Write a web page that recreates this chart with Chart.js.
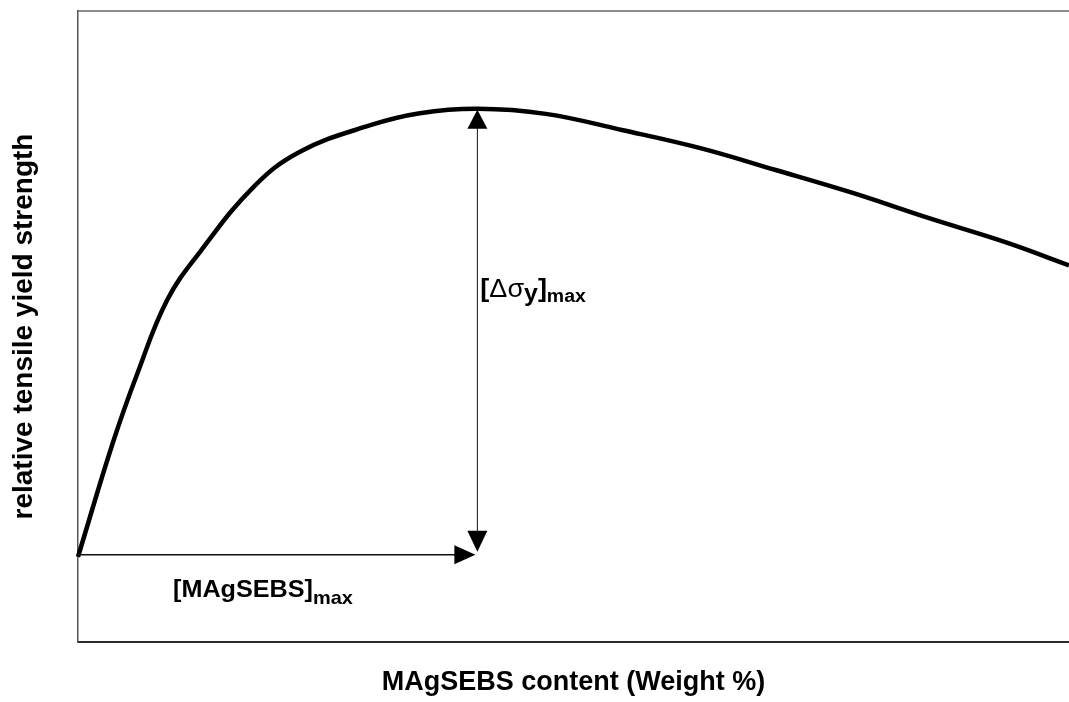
<!DOCTYPE html>
<html>
<head>
<meta charset="utf-8">
<script src="https://cdn.jsdelivr.net/npm/chart.js@4.4.0/dist/chart.umd.min.js"></script>
<style>
  html, body { margin: 0; padding: 0; background: #ffffff; overflow: hidden; }
  #wrap { width: 1069px; height: 702px; position: relative; }
</style>
</head>
<body>
<div id="wrap"><canvas id="c" width="1069" height="702"></canvas></div>
<script>
// ---- data (arbitrary units, 0..100 on both axes) ----
const contentPct  = [0, 3.5, 6.0, 9.0, 12.3, 17.7, 22.4, 29.5, 34.5, 40.3, 47.2, 55.0, 62.7, 70.4, 78.1, 85.8, 93.5, 100];
const relStrength = [13.5, 31.5, 42.6, 54.2, 61.8, 72.1, 77.7, 81.9, 83.8, 84.5, 83.7, 81.1, 78.3, 74.8, 71.2, 67.2, 63.4, 59.7];
const xRange = [0, 100];
const yRange = [0, 100];
const xTitle = 'MAgSEBS content (Weight %)';
const yTitle = 'relative tensile yield strength';
const labelX = ['[MAgSEBS]', 'max'];
const labelY = ['[', '\u0394\u03C3', 'y', ']', 'max'];

const FONT = '"Liberation Sans", Arial, Helvetica, sans-serif';

function drawRuns(ctx, x, y, runs, sx) {
  ctx.save();
  ctx.translate(x, y);
  ctx.scale(sx, 1);
  ctx.textBaseline = 'alphabetic';
  ctx.textAlign = 'left';
  let cx = 0;
  for (const r of runs) {
    ctx.font = r.font;
    ctx.fillText(r.t, cx, r.dy || 0);
    cx += ctx.measureText(r.t).width;
  }
  ctx.restore();
}

function tri(ctx, tx, ty, dir, len, half) {
  ctx.beginPath();
  ctx.moveTo(tx, ty);
  if (dir === 'right') { ctx.lineTo(tx - len, ty - half); ctx.lineTo(tx - len, ty + half); }
  if (dir === 'up')    { ctx.lineTo(tx - half, ty + len); ctx.lineTo(tx + half, ty + len); }
  if (dir === 'down')  { ctx.lineTo(tx - half, ty - len); ctx.lineTo(tx + half, ty - len); }
  ctx.closePath();
  ctx.fill();
}

const arrowPlugin = {
  id: 'arrows',
  afterDatasetsDraw(chart) {
    const { ctx, scales: { x, y } } = chart;
    const peakIdx = relStrength.indexOf(Math.max(...relStrength));
    const px = x.getPixelForValue(contentPct[peakIdx]);
    const py = y.getPixelForValue(relStrength[peakIdx]);
    const x0 = x.getPixelForValue(contentPct[0]);
    const y0 = y.getPixelForValue(relStrength[0]) - 2;
    ctx.save();
    ctx.fillStyle = '#000';
    ctx.strokeStyle = '#111';
    // horizontal arrow: origin -> peak content
    ctx.lineWidth = 1.5;
    ctx.beginPath();
    ctx.moveTo(x0 + 1, y0);
    ctx.lineTo(px - 20, y0);
    ctx.stroke();
    tri(ctx, px - 2, y0, 'right', 21, 9.5);
    // vertical double arrow: peak height
    ctx.lineWidth = 1;
    ctx.beginPath();
    ctx.moveTo(px, py + 18);
    ctx.lineTo(px, y0 - 22);
    ctx.stroke();
    tri(ctx, px, py + 1, 'up', 19, 10);
    tri(ctx, px, y0 - 3, 'down', 21, 10);
    ctx.fillStyle = '#000';
    // labels
    drawRuns(ctx, x0 + 95, y0 + 42, [
      { t: labelX[0], font: 'bold 24px ' + FONT },
      { t: labelX[1], font: 'bold 19px ' + FONT, dy: 7 }
    ], 1.05);
    drawRuns(ctx, px + 3, py + 188, [
      { t: labelY[0], font: 'bold 25px ' + FONT },
      { t: labelY[1], font: '25px ' + FONT },
      { t: labelY[2], font: 'bold 23px ' + FONT, dy: 4 },
      { t: labelY[3], font: 'bold 25px ' + FONT },
      { t: labelY[4], font: 'bold 18px ' + FONT, dy: 5 }
    ], 1.08);
    ctx.restore();
  }
};

const points = contentPct.map((v, i) => ({ x: v, y: relStrength[i] }));

new Chart(document.getElementById('c'), {
  type: 'line',
  data: {
    datasets: [{
      data: points,
      xAxisID: 'x',
      yAxisID: 'y',
      borderColor: '#000',
      borderWidth: 4.5,
      pointRadius: 0,
      fill: false,
      tension: 0.4,
      clip: false
    }]
  },
  options: {
    responsive: false,
    devicePixelRatio: 1,
    animation: false,
    layout: { padding: { left: 0, right: 0, top: 0, bottom: 0 } },
    plugins: { legend: { display: false }, tooltip: { enabled: false } },
    scales: {
      x: {
        type: 'linear', position: 'bottom', min: xRange[0], max: xRange[1],
        ticks: { display: false },
        grid: { display: false },
        border: { display: true, color: '#2b2b2b', width: 2 },
        title: { display: true, text: xTitle, color: '#000',
                 font: { family: FONT, size: 27, weight: 'bold' },
                 padding: { top: 0, bottom: 3 } },
        afterFit(s) { s.height = 60; }
      },
      xTop: {
        type: 'linear', position: 'top', axis: 'x', min: xRange[0], max: xRange[1],
        ticks: { display: false },
        grid: { display: false },
        border: { display: true, color: '#8c8c8c', width: 2 },
        afterFit(s) { s.height = 11; }
      },
      y: {
        type: 'linear', position: 'left', min: yRange[0], max: yRange[1],
        ticks: { display: false },
        grid: { display: false },
        border: { display: true, color: '#555', width: 1.5 },
        title: { display: true, text: yTitle, color: '#000',
                 font: { family: FONT, size: 28, weight: 'bold' },
                 padding: { top: 7, bottom: 0 } },
        afterFit(s) { s.width = 78; }
      }
    }
  },
  plugins: [arrowPlugin]
});
</script>
</body>
</html>
